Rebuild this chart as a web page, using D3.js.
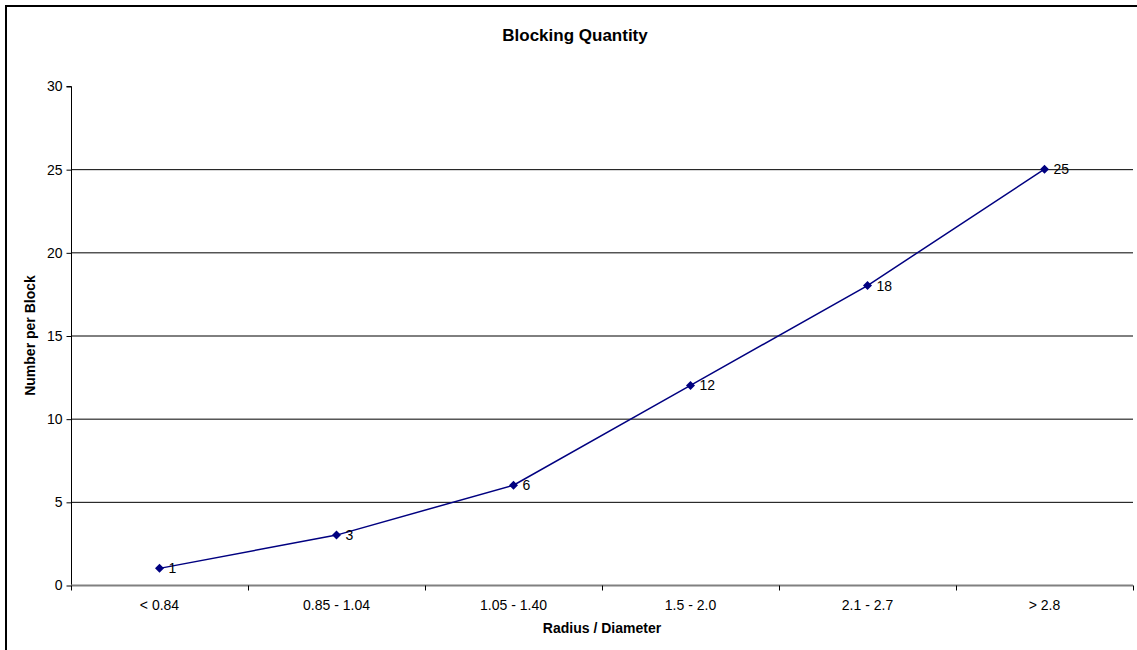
<!DOCTYPE html>
<html><head><meta charset="utf-8">
<script src="https://cdn.jsdelivr.net/npm/d3@7"></script>
<style>
body{margin:0;background:#fff;}
svg{display:block;font-family:"Liberation Sans",Arial,sans-serif;}
</style></head>
<body>
<svg id="c" width="1137" height="650"></svg>
<script>
const categories = ["< 0.84","0.85 - 1.04","1.05 - 1.40","1.5 - 2.0","2.1 - 2.7","> 2.8"];
const values = [1,3,6,12,18,25];
const yTicks = [0,5,10,15,20,25,30];
const title = "Blocking Quantity";
const xTitle = "Radius / Diameter";
const yTitle = "Number per Block";

const svg = d3.select("#c");
const L = 71, R = 1133, T = 86, B = 585;

svg.append("rect").attr("x",6).attr("y",6).attr("width",1200).attr("height",700)
  .attr("fill","none").attr("stroke","#000").attr("stroke-width",2);

const x = d3.scaleBand().domain(categories).range([L,R]);
const y = d3.scaleLinear().domain([0,30]).range([B,T]);

// gridlines
svg.append("g").selectAll("line").data(yTicks.filter(t=>t>0 && t<30)).join("line")
  .attr("x1",L).attr("x2",R).attr("y1",d=>y(d)+0.5).attr("y2",d=>y(d)+0.5)
  .attr("stroke","#000").attr("stroke-width",1);

// y axis
const ya = svg.append("g").attr("transform",`translate(${L+0.5},0.5)`)
  .call(d3.axisLeft(y).tickValues(yTicks).tickSize(5).tickPadding(4).tickFormat(d3.format("d")));
ya.select(".domain").attr("stroke","#000").attr("d",`M-5,${T}H0V${B}`);
ya.selectAll(".tick line").attr("stroke","#000");
ya.selectAll("text").attr("font-size",14).attr("fill","#000").attr("font-family","Liberation Sans, Arial, sans-serif");

// x axis
const xa = svg.append("g").attr("transform",`translate(0,${B+0.5})`);
xa.append("line").attr("x1",L).attr("x2",R).attr("stroke","#808080").attr("stroke-width",2);
const bounds = categories.map(c=>x(c)).concat([x(categories[categories.length-1])+x.bandwidth()]);
xa.selectAll("line.t").data(bounds).join("line").attr("class","t")
  .attr("x1",d=>Math.round(d)+0.5).attr("x2",d=>Math.round(d)+0.5).attr("y1",0).attr("y2",5).attr("stroke","#000");
xa.selectAll("text").data(categories).join("text")
  .attr("x",d=>x(d)+x.bandwidth()/2).attr("y",24).attr("text-anchor","middle")
  .attr("font-size",14).attr("fill","#000").text(d=>d);

// line
const cx = d=>x(d)+x.bandwidth()/2;
svg.append("path").datum(categories.map((c,i)=>[cx(c),y(values[i])]))
  .attr("d",d3.line()).attr("fill","none").attr("stroke","#000080").attr("stroke-width",1.5);
svg.append("g").selectAll("path").data(categories).join("path")
  .attr("transform",(c,i)=>`translate(${cx(c)},${y(values[i])})`)
  .attr("d","M0,-4.5L4.5,0L0,4.5L-4.5,0Z").attr("fill","#000080");
svg.append("g").selectAll("text").data(categories).join("text")
  .attr("x",c=>cx(c)+9).attr("y",(c,i)=>y(values[i])+5)
  .attr("font-size",14).attr("fill","#000").text((c,i)=>values[i]);

// titles
svg.append("text").attr("x",575).attr("y",41).attr("text-anchor","middle")
  .attr("font-size",17).attr("font-weight","bold").text(title);
svg.append("text").attr("x",(L+R)/2).attr("y",633).attr("text-anchor","middle")
  .attr("font-size",14).attr("font-weight","bold").text(xTitle);
svg.append("text").attr("transform",`translate(35,${(T+B)/2}) rotate(-90)`).attr("text-anchor","middle")
  .attr("font-size",14).attr("font-weight","bold").text(yTitle);
</script>
</body></html>
